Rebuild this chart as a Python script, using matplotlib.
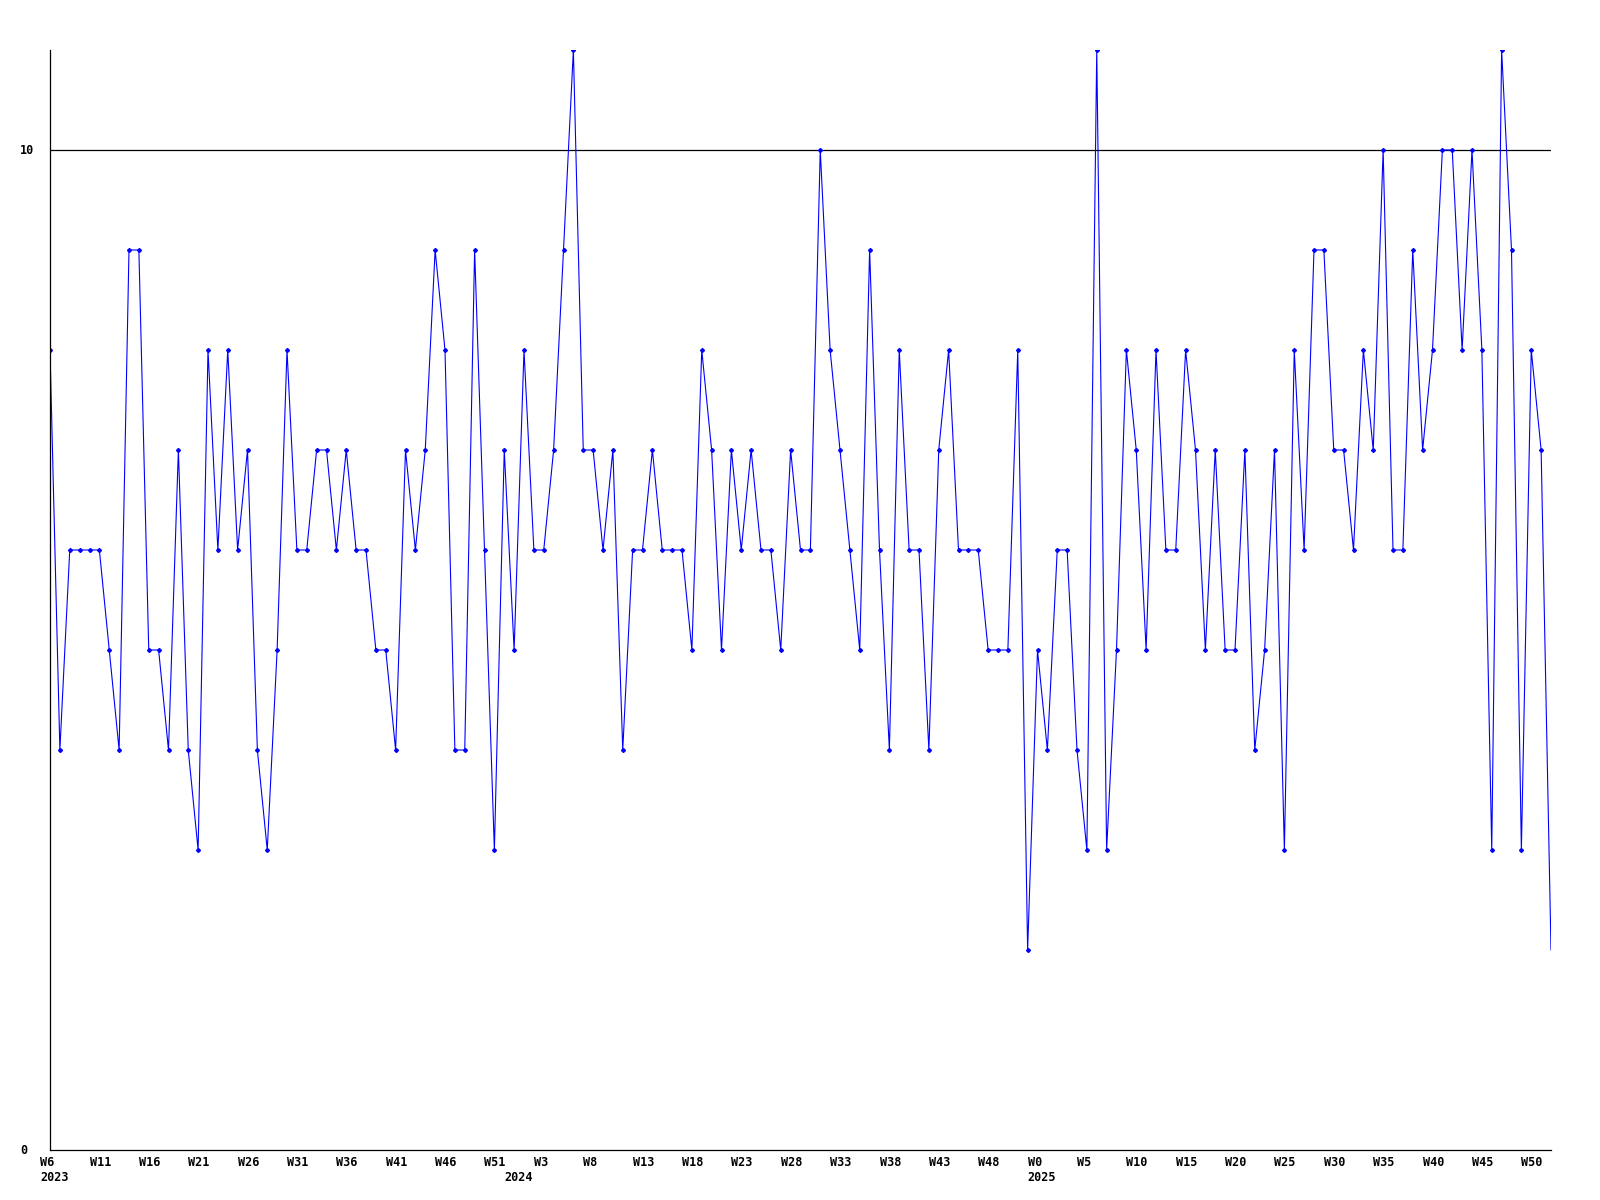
import matplotlib
matplotlib.use("Agg")
import matplotlib.pyplot as plt
import numpy as np

# weekly counts, W6 2023 .. end of 2025
values = [8, 4, 6, 6, 6, 6, 5, 4, 9, 9, 5, 5, 4, 7, 4, 3, 8, 6, 8, 6,
          7, 4, 3, 5, 8, 6, 6, 7, 7, 6, 7, 6, 6, 5, 5, 4, 7, 6, 7, 9,
          8, 4, 4, 9, 6, 3, 7, 5, 8, 6, 6, 7, 9, 11, 7, 7, 6, 7, 4, 6,
          6, 7, 6, 6, 6, 5, 8, 7, 5, 7, 6, 7, 6, 6, 5, 7, 6, 6, 10, 8,
          7, 6, 5, 9, 6, 4, 8, 6, 6, 4, 7, 8, 6, 6, 6, 5, 5, 5, 8, 2,
          5, 4, 6, 6, 4, 3, 11, 3, 5, 8, 7, 5, 8, 6, 6, 8, 7, 5, 7, 5,
          5, 7, 4, 5, 7, 3, 8, 6, 9, 9, 7, 7, 6, 8, 7, 10, 6, 6, 9, 7,
          8, 10, 10, 8, 10, 8, 3, 11, 9, 3, 8, 7, 2]

week_labels = ["W6", "W11", "W16", "W21", "W26", "W31", "W36", "W41", "W46", "W51",
               "W3", "W8", "W13", "W18", "W23", "W28", "W33", "W38", "W43", "W48",
               "W0", "W5", "W10", "W15", "W20", "W25", "W30", "W35", "W40", "W45", "W50"]
label_step = 5

years = ["2023", "2024", "2025"]
year_start = [0, 47, 100]  # point index where each year label sits

y_max = 11

fig = plt.figure(figsize=(16, 12), dpi=100)
ax = fig.add_axes([50 / 1600, 50 / 1200, 1501 / 1600, 1100 / 1200])

x = np.arange(len(values))
# last point is drawn without a marker, like the original
ax.plot(x, values, color="#0000ff", lw=0.8, marker="D", markersize=2.0,
        markerfacecolor="#0000ff", markeredgecolor="#0000ff",
        markevery=list(range(len(values) - 1)))
ax.axhline(10, color="black", lw=0.9, zorder=1)

ax.set_xlim(0, len(values) - 1)
ax.set_ylim(0, y_max)

for s in ["top", "right"]:
    ax.spines[s].set_visible(False)
for s in ["left", "bottom"]:
    ax.spines[s].set_linewidth(0.9)

ax.set_xticks([])
ax.set_yticks([])

font = dict(family="DejaVu Sans Mono", fontweight="bold", fontsize=8.5, color="black")
trans = ax.get_xaxis_transform()
for i, lab in enumerate(week_labels):
    ax.text(i * label_step - 1.0, -0.005, lab, transform=trans, ha="left", va="top",
            clip_on=False, **font)
for yr, pos in zip(years, year_start):
    ax.text(pos - 1.0, -0.019, yr, transform=trans, ha="left", va="top",
            clip_on=False, **font)

ytrans = ax.get_yaxis_transform()
for v in [0, 10]:
    ax.text(-30 / 1501, v, str(v), transform=ytrans, ha="left", va="center",
            clip_on=False, **font)

fig.savefig("out.png", dpi=100)
